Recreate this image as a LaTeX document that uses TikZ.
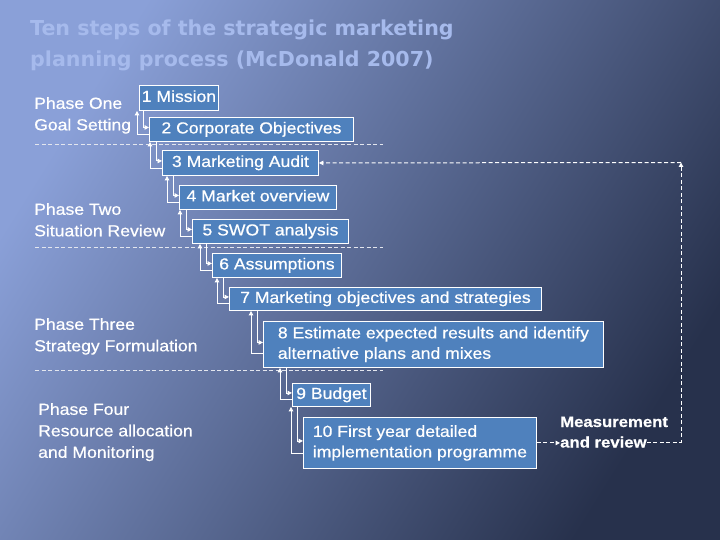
\documentclass[tikz,border=0pt]{standalone}
\usepackage{fontspec}
\setmainfont{Liberation Sans}[FakeStretch=1.1, FakeBold=0.6]
\newfontfamily\titlefont{DejaVu Sans}
\usepackage{tikz}
\usetikzlibrary{positioning,arrows.meta,calc}
\definecolor{bgtop}{HTML}{8AA0D8}
\definecolor{bgmid}{HTML}{48598B}
\definecolor{bgbot}{HTML}{27314C}
\definecolor{boxblue}{HTML}{4F81BD}
\definecolor{title1}{HTML}{A6BAEC}

\begin{document}
\begin{tikzpicture}[
    x=1pt, y=-1pt,
    >={Triangle[length=4.5pt,width=4.5pt]},
    stepbox/.style={draw=white, line width=0.9pt, fill=boxblue, text=white,
                anchor=north west, inner sep=0pt,
                text height=11.5pt, text depth=3.5pt,
                font=\fontsize{16}{20.5}\selectfont},
    twoline/.style={stepbox, align=left, text height=, text depth=},
    phase/.style={text=white, anchor=north west, align=left, inner sep=0pt,
                font=\fontsize{16}{21.5}\selectfont},
    lbl/.style={text=white, anchor=base west, inner sep=0pt,
                font=\bfseries\fontsize{15.2}{20}\selectfont},
    flow/.style={->, white, line width=0.9pt},
    sep/.style={white!85!bgmid, line width=0.8pt, dash pattern=on 4pt off 2.5pt},
    loop/.style={->, white, line width=1pt, dash pattern=on 4pt off 2.5pt},
]
\useasboundingbox (0,0) rectangle (720,540);
\shade[top color=bgtop, middle color=bgmid, bottom color=bgbot, shading angle=58]
    (0,0) rectangle (720,540);

% title
\node[anchor=north west, align=left, inner sep=0pt, text=title1,
      font=\titlefont\bfseries\fontsize{20.6}{31}\selectfont]
    (title) at (30,20) {Ten steps of the strategic marketing\\planning process (McDonald 2007)};

% phases
\node[phase] (p1) at (34,97) {Phase One\\Goal Setting};
\node[phase] (p2) at (34,203) {Phase Two\\Situation Review};
\node[phase] (p3) at (34,318) {Phase Three\\Strategy Formulation};
\node[phase] (p4) at (38,403) {Phase Four\\Resource allocation\\and Monitoring};

\draw[sep] (35,144.5) -- (383,144.5);
\draw[sep] (35,247) -- (383,247);
\draw[sep] (35,370.5) -- (383,370.5);

% the ten steps
\node[stepbox, minimum width=79, minimum height=25] (m1) at (139,85) {1 Mission};
\node[stepbox, minimum width=204, minimum height=24] (m2) at (149,117) {2 Corporate Objectives};
\node[stepbox, minimum width=156, minimum height=25] (m3) at (162,150) {3 Marketing Audit};
\node[stepbox, minimum width=157, minimum height=24] (m4) at (179,185) {4 Market overview};
\node[stepbox, minimum width=156, minimum height=24] (m5) at (192,219) {5 SWOT analysis};
\node[stepbox, minimum width=129, minimum height=24] (m6) at (212,253) {6 Assumptions};
\node[stepbox, minimum width=312, minimum height=23] (m7) at (229,287)
    {7 Marketing objectives and strategies};
\node[twoline, minimum width=340, minimum height=46] (m8) at (263,321)
    {8 Estimate expected results and identify\\alternative plans and mixes};
\node[stepbox, minimum width=78, minimum height=23] (m9) at (292,383) {9 Budget};
\node[twoline, minimum width=233, minimum height=51] (m10) at (303,417)
    {10 First year detailed\\implementation programme};

% step to step, and back
\foreach \a/\b in {m1/m2,m2/m3,m3/m4,m4/m5,m5/m6,m6/m7,m7/m8,m8/m9,m9/m10} {
    \coordinate (in) at ($(\b.west)+(-6,0)$);
    \coordinate (out) at ($(\b.west)+(-12,0)$);
    \draw[flow] (in |- \a.south) |- ($(\b.west)+(0,-2)$);
    \draw[flow] ($(\b.west)!0.4!(\b.south west)$) -| (out |- \a.south);
}

% measurement loop
\node[lbl] (meas) at (560,427) {Measurement};
\node[lbl] (review) at (560,447.5) {and review};
\coordinate (corner) at (681,162.5);
\draw[loop] (m10.east) -- (m10.east -| review.west);
\draw[loop] (review.east) -| (corner);
\draw[loop] (corner) -- (m3.east);
\end{tikzpicture}
\end{document}
